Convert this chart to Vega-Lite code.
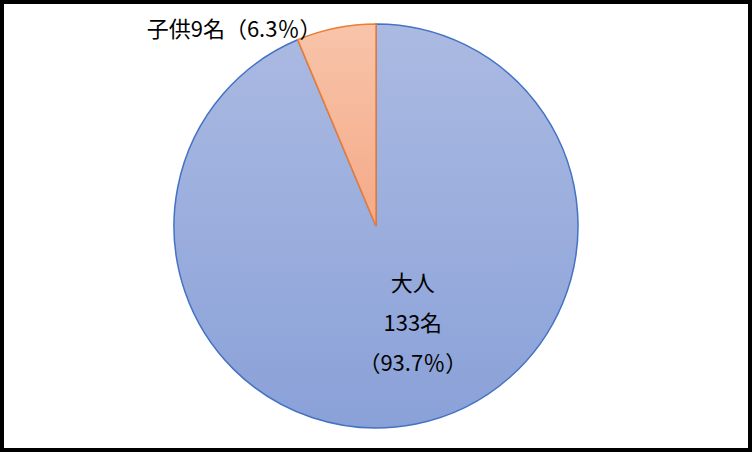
{
  "$schema": "https://vega.github.io/schema/vega-lite/v6.json",
  "width": 752,
  "height": 452,
  "autosize": {"type": "fit", "contains": "padding"},
  "padding": 0,
  "background": "white",
  "data": {
    "values": [
      {"group": "大人", "count": 133, "order": 1, "label": "大人\n133名\n（93.7％）"},
      {"group": "子供", "count": 9, "order": 2, "label": "子供9名（6.3％）"}
    ]
  },
  "layer": [
    {
      "mark": {
        "type": "arc",
        "outerRadius": 202,
        "stroke": "#4472c4",
        "strokeWidth": 1.5,
        "fill": {
          "gradient": "linear", "x1": 0, "y1": 0, "x2": 0, "y2": 1,
          "stops": [{"offset": 0, "color": "#abbae2"}, {"offset": 1, "color": "#8aa1d8"}]
        }
      },
      "encoding": {
        "theta": {"field": "count", "type": "quantitative", "stack": true},
        "order": {"field": "order", "type": "quantitative"},
        "opacity": {"condition": {"test": "datum.group === '大人'", "value": 1}, "value": 0}
      }
    },
    {
      "mark": {
        "type": "arc",
        "outerRadius": 202,
        "stroke": "#ed7d31",
        "strokeWidth": 1.5,
        "fill": {
          "gradient": "linear", "x1": 0, "y1": 0, "x2": 0, "y2": 1,
          "stops": [{"offset": 0, "color": "#f8c4aa"}, {"offset": 1, "color": "#f4aa88"}]
        }
      },
      "encoding": {
        "theta": {"field": "count", "type": "quantitative", "stack": true},
        "order": {"field": "order", "type": "quantitative"},
        "opacity": {"condition": {"test": "datum.group === '子供'", "value": 1}, "value": 0}
      }
    },
    {
      "mark": {
        "type": "text",
        "radius": 100,
        "dx": 17,
        "dy": -40,
        "font": "Noto Sans CJK JP",
        "fontSize": 22,
        "lineBreak": "\n",
        "lineHeight": 40,
        "color": "black"
      },
      "encoding": {
        "theta": {"field": "count", "type": "quantitative", "stack": true},
        "order": {"field": "order", "type": "quantitative"},
        "text": {"condition": {"test": "datum.group === '大人'", "field": "label"}, "value": ""}
      }
    },
    {
      "mark": {
        "type": "text",
        "radius": 202,
        "dx": -102,
        "dy": 2,
        "font": "Noto Sans CJK JP",
        "fontSize": 22,
        "color": "black"
      },
      "encoding": {
        "theta": {"field": "count", "type": "quantitative", "stack": true},
        "order": {"field": "order", "type": "quantitative"},
        "text": {"condition": {"test": "datum.group === '子供'", "field": "label"}, "value": ""}
      }
    },
    {
      "data": {"values": [{"frame": 1}]},
      "mark": {"type": "rect", "fill": null, "stroke": "black", "strokeWidth": 4},
      "encoding": {}
    }
  ]
}
